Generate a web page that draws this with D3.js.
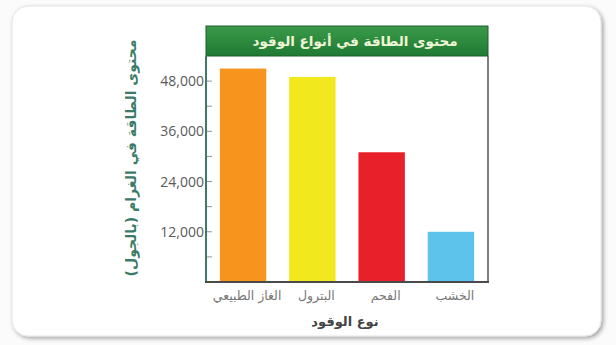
<!DOCTYPE html>
<html>
<head>
<meta charset="utf-8">
<script src="https://cdn.jsdelivr.net/npm/d3@7"></script>
<style>
  body { margin: 0; background: #fbfbfb; }
  svg { display: block; }
</style>
</head>
<body>
<div id="chart"></div>
<script>
// data
const fuels = ["الغاز الطبيعي", "البترول", "الفحم", "الخشب"];
const energy = [51000, 49000, 31000, 12000];
const barColors = ["#f7941d", "#f2e81e", "#e8202a", "#5ec3ea"];
const yTicks = [12000, 24000, 36000, 48000];
const title = "محتوى الطاقة في أنواع الوقود";
const xTitle = "نوع الوقود";
const yTitle = "محتوى الطاقة في الغرام (بالجول)";

const width = 616, height = 345;
const plotLeft = 206, plotRight = 488, plotTop = 56, plotBottom = 282;
const arabic = "'DejaVu Sans', sans-serif";

const svg = d3.create("svg")
    .attr("width", width)
    .attr("height", height);

const defs = svg.append("defs");
const shadow = defs.append("filter").attr("id", "shadow")
    .attr("x", "-5%").attr("y", "-5%").attr("width", "110%").attr("height", "115%");
shadow.append("feDropShadow")
    .attr("dx", 2).attr("dy", 2).attr("stdDeviation", 2)
    .attr("flood-color", "#000").attr("flood-opacity", 0.35);

const grad = defs.append("linearGradient").attr("id", "hdr")
    .attr("x1", 0).attr("y1", 0).attr("x2", 0).attr("y2", 1);
grad.append("stop").attr("offset", "0%").attr("stop-color", "#3a9a48");
grad.append("stop").attr("offset", "100%").attr("stop-color", "#1f7a34");

// card
svg.append("rect")
    .attr("x", 12).attr("y", 6)
    .attr("width", 589).attr("height", 330)
    .attr("rx", 16)
    .attr("fill", "#fff")
    .attr("stroke", "#e4e4e4")
    .attr("filter", "url(#shadow)");

// scales
const x = d3.scaleBand()
    .domain(fuels)
    .range([plotLeft, plotRight])
    .paddingInner(0.33)
    .paddingOuter(0.2);

const y = d3.scaleLinear()
    .domain([0, 54000])
    .range([plotBottom, plotTop]);

// header
svg.append("rect")
    .attr("x", plotLeft).attr("y", 26)
    .attr("width", plotRight - plotLeft).attr("height", plotTop - 26)
    .attr("fill", "url(#hdr)")
    .attr("stroke", "#1d5e2c");

svg.append("text")
    .attr("x", (plotLeft + plotRight) / 2 + 8)
    .attr("y", 46)
    .attr("text-anchor", "middle")
    .attr("direction", "rtl")
    .style("font-family", arabic)
    .style("font-size", "13.5px")
    .style("font-weight", "bold")
    .attr("fill", "#eef5d6")
    .text(title);

// frame right side
svg.append("line")
    .attr("x1", plotRight).attr("x2", plotRight)
    .attr("y1", plotTop).attr("y2", plotBottom)
    .attr("stroke", "#555").attr("stroke-width", 1.5);

// bars
svg.append("g")
    .selectAll("rect")
    .data(fuels)
    .join("rect")
    .attr("x", d => x(d))
    .attr("y", (d, i) => y(energy[i]))
    .attr("width", x.bandwidth())
    .attr("height", (d, i) => y(0) - y(energy[i]))
    .attr("fill", (d, i) => barColors[i]);

// minor ticks inside the plot
svg.append("g")
    .selectAll("line")
    .data(d3.range(6000, 54000, 6000))
    .join("line")
    .attr("x1", plotLeft).attr("x2", plotLeft + 6)
    .attr("y1", d => y(d)).attr("y2", d => y(d))
    .attr("stroke", "#8a9a94");

// y axis
const yAxis = svg.append("g")
    .attr("transform", `translate(${plotLeft},0)`)
    .call(d3.axisLeft(y).tickValues(yTicks).tickSize(0).tickPadding(2)
        .tickFormat(d3.format(",")));
yAxis.select(".domain").remove();
yAxis.selectAll("text")
    .style("font-family", "'Open Sans', sans-serif")
    .style("font-size", "14px")
    .attr("fill", "#5a5a5a");

svg.append("line")
    .attr("x1", plotLeft).attr("x2", plotLeft)
    .attr("y1", plotTop).attr("y2", plotBottom)
    .attr("stroke", "#3d7a68").attr("stroke-width", 2);

// x axis
svg.append("line")
    .attr("x1", plotLeft - 1).attr("x2", plotRight + 1)
    .attr("y1", plotBottom).attr("y2", plotBottom)
    .attr("stroke", "#4a4a4a").attr("stroke-width", 2);

svg.append("g")
    .selectAll("text")
    .data(fuels)
    .join("text")
    .attr("x", d => x(d) + x.bandwidth() / 2 + 4)
    .attr("y", 300)
    .attr("text-anchor", "middle")
    .attr("direction", "rtl")
    .style("font-family", arabic)
    .style("font-size", "12.5px")
    .attr("fill", "#777")
    .text(d => d);

svg.append("text")
    .attr("x", 345).attr("y", 326)
    .attr("text-anchor", "middle")
    .attr("direction", "rtl")
    .style("font-family", arabic)
    .style("font-size", "13px")
    .style("font-weight", "bold")
    .attr("fill", "#444")
    .text(xTitle);

svg.append("text")
    .attr("transform", "translate(136,158) rotate(-90)")
    .attr("text-anchor", "middle")
    .attr("direction", "rtl")
    .style("font-family", arabic)
    .style("font-size", "14px")
    .style("font-weight", "bold")
    .attr("fill", "#3a7a68")
    .text(yTitle);

document.getElementById("chart").appendChild(svg.node());
</script>
</body>
</html>
